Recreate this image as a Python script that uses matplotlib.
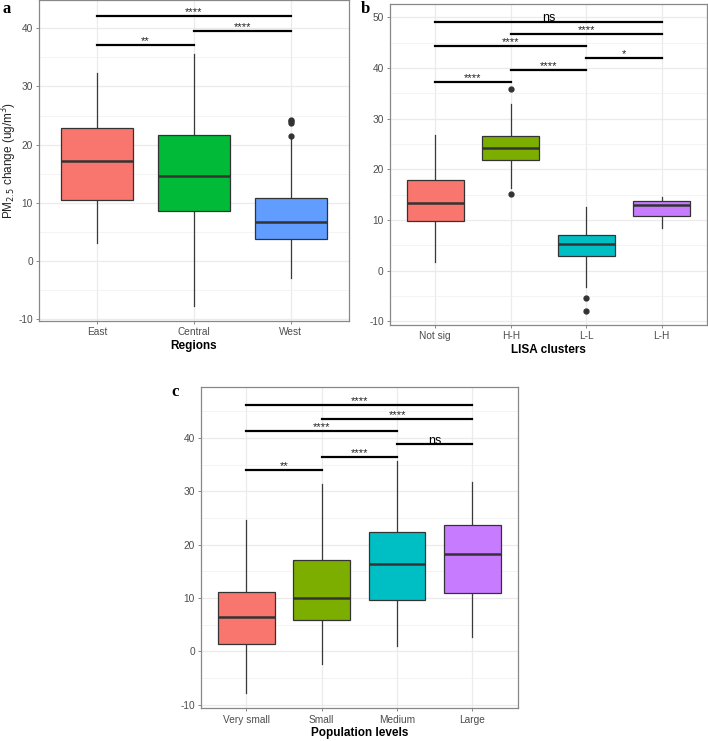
import matplotlib.pyplot as plt
from matplotlib.ticker import MultipleLocator

plt.rcParams['font.family'] = ['Liberation Sans', 'DejaVu Sans']
plt.rcParams['axes.unicode_minus'] = False

# panel a: regions
a_cats = ["East", "Central", "West"]
a_low = [3.0, -7.8, -3.0]
a_q1 = [10.4, 8.6, 3.7]
a_med = [17.2, 14.5, 6.7]
a_q3 = [22.8, 21.6, 10.8]
a_high = [32.4, 35.6, 21.4]
a_fliers = [[], [], [21.5, 23.7, 24.0, 24.3]]
a_colors = ["#F8766D", "#00BA38", "#619CFF"]
a_sig = [(0, 1, 37.1, "**"), (1, 2, 39.5, "****"), (0, 2, 42.1, "****")]

# panel b: LISA clusters
b_cats = ["Not sig", "H-H", "L-L", "L-H"]
b_low = [1.8, 16.3, -3.2, 8.4]
b_q1 = [9.9, 21.9, 2.9, 10.7]
b_med = [13.3, 24.3, 5.2, 13.0]
b_q3 = [17.9, 26.5, 7.0, 13.8]
b_high = [26.8, 32.9, 12.6, 14.6]
b_fliers = [[], [15.1, 35.8], [-5.3, -7.9], []]
b_colors = ["#F8766D", "#7CAE00", "#00BFC4", "#C77CFF"]
b_sig = [(0, 1, 37.2, "****"), (1, 2, 39.5, "****"), (2, 3, 41.9, "*"),
         (0, 2, 44.3, "****"), (1, 3, 46.7, "****"), (0, 3, 49.1, "ns")]

# panel c: population levels
c_cats = ["Very small", "Small", "Medium", "Large"]
c_low = [-7.9, -2.4, 1.0, 2.75]
c_q1 = [1.4, 5.9, 9.6, 11.0]
c_med = [6.4, 10.0, 16.4, 18.2]
c_q3 = [11.1, 17.1, 22.4, 23.6]
c_high = [24.6, 31.4, 35.7, 31.8]
c_fliers = [[], [], [], []]
c_colors = ["#F8766D", "#7CAE00", "#00BFC4", "#C77CFF"]
c_sig = [(0, 1, 34.0, "**"), (1, 2, 36.4, "****"), (2, 3, 38.8, "ns"),
         (0, 2, 41.25, "****"), (1, 3, 43.6, "****"), (0, 3, 46.1, "****")]


def draw_panel(ax, cats, low, q1, med, q3, high, fliers, colors, sig, ylim, xlabel, ylabel):
    stats = []
    for i in range(len(cats)):
        stats.append({"whislo": low[i], "q1": q1[i], "med": med[i], "q3": q3[i],
                      "whishi": high[i], "fliers": fliers[i]})
    pos = list(range(1, len(cats) + 1))
    bp = ax.bxp(stats, positions=pos, widths=0.75, patch_artist=True, showcaps=False,
                boxprops=dict(edgecolor="#333333", linewidth=0.9),
                medianprops=dict(color="#333333", linewidth=1.8),
                whiskerprops=dict(color="#3a3a3a", linewidth=0.9),
                flierprops=dict(marker="o", markerfacecolor="#333333", markeredgecolor="#333333",
                                markersize=3.5))
    for patch, col in zip(bp["boxes"], colors):
        patch.set_facecolor(col)
        patch.set_zorder(3)
    for l in bp["medians"]:
        l.set_zorder(4)
    for l in bp["whiskers"]:
        l.set_zorder(2)

    for i, j, y, txt in sig:
        ax.plot([pos[i], pos[j]], [y, y], color="black", linewidth=1.6, zorder=5)
        if txt == "ns":
            ax.text((pos[i] + pos[j]) / 2, y - 0.5, txt, ha="center", va="bottom", fontsize=9, zorder=6)
        else:
            ax.text((pos[i] + pos[j]) / 2, y - 0.2, txt, ha="center", va="bottom", fontsize=8,
                    color="#222222", zorder=6)

    ax.set_xlim(0.4, len(cats) + 0.6)
    ax.set_ylim(*ylim)
    ax.set_xticks(pos)
    ax.set_xticklabels(cats)
    ax.yaxis.set_major_locator(MultipleLocator(10))
    ax.yaxis.set_minor_locator(MultipleLocator(5))
    ax.grid(True, which="major", color="#EBEBEB", linewidth=0.9, zorder=0)
    ax.grid(True, which="minor", axis="y", color="#F2F2F2", linewidth=0.6, zorder=0)
    ax.set_axisbelow(True)
    ax.tick_params(which="major", length=2.5, width=0.7, color="#888888", labelsize=7.3,
                   labelcolor="#4D4D4D", pad=2)
    ax.tick_params(which="minor", length=0)
    for s in ax.spines.values():
        s.set_color("#888888")
        s.set_linewidth(0.9)
    ax.set_xlabel(xlabel, fontsize=8.5, fontweight="bold", labelpad=2)
    if ylabel:
        ax.set_ylabel(ylabel, fontsize=8.5, color="#222222")
        ax.yaxis.set_label_coords(-0.066, 0.5)
    return ax


fig = plt.figure(figsize=(7.08, 7.41), dpi=100)

ax_a = fig.add_axes([0.0551, 0.5668, 0.4378, 0.4332])
draw_panel(ax_a, a_cats, a_low, a_q1, a_med, a_q3, a_high, a_fliers, a_colors, a_sig,
           (-10.4, 44.9), "Regions", r"PM$_{2.5}$ change (ug/m$^3$)")

ax_b = fig.add_axes([0.5508, 0.5614, 0.4478, 0.4332])
draw_panel(ax_b, b_cats, b_low, b_q1, b_med, b_q3, b_high, b_fliers, b_colors, b_sig,
           (-10.7, 52.6), "LISA clusters", None)

ax_c = fig.add_axes([0.2839, 0.0441, 0.4473, 0.4332])
draw_panel(ax_c, c_cats, c_low, c_q1, c_med, c_q3, c_high, c_fliers, c_colors, c_sig,
           (-10.7, 49.5), "Population levels", None)

fig.text(0.004, 0.983, "a", fontsize=12, fontweight="bold", family="Liberation Serif")
fig.text(0.51, 0.982, "b", fontsize=12, fontweight="bold", family="Liberation Serif")
fig.text(0.242, 0.465, "c", fontsize=12, fontweight="bold", family="Liberation Serif")

fig.savefig("out.png", dpi=100)
